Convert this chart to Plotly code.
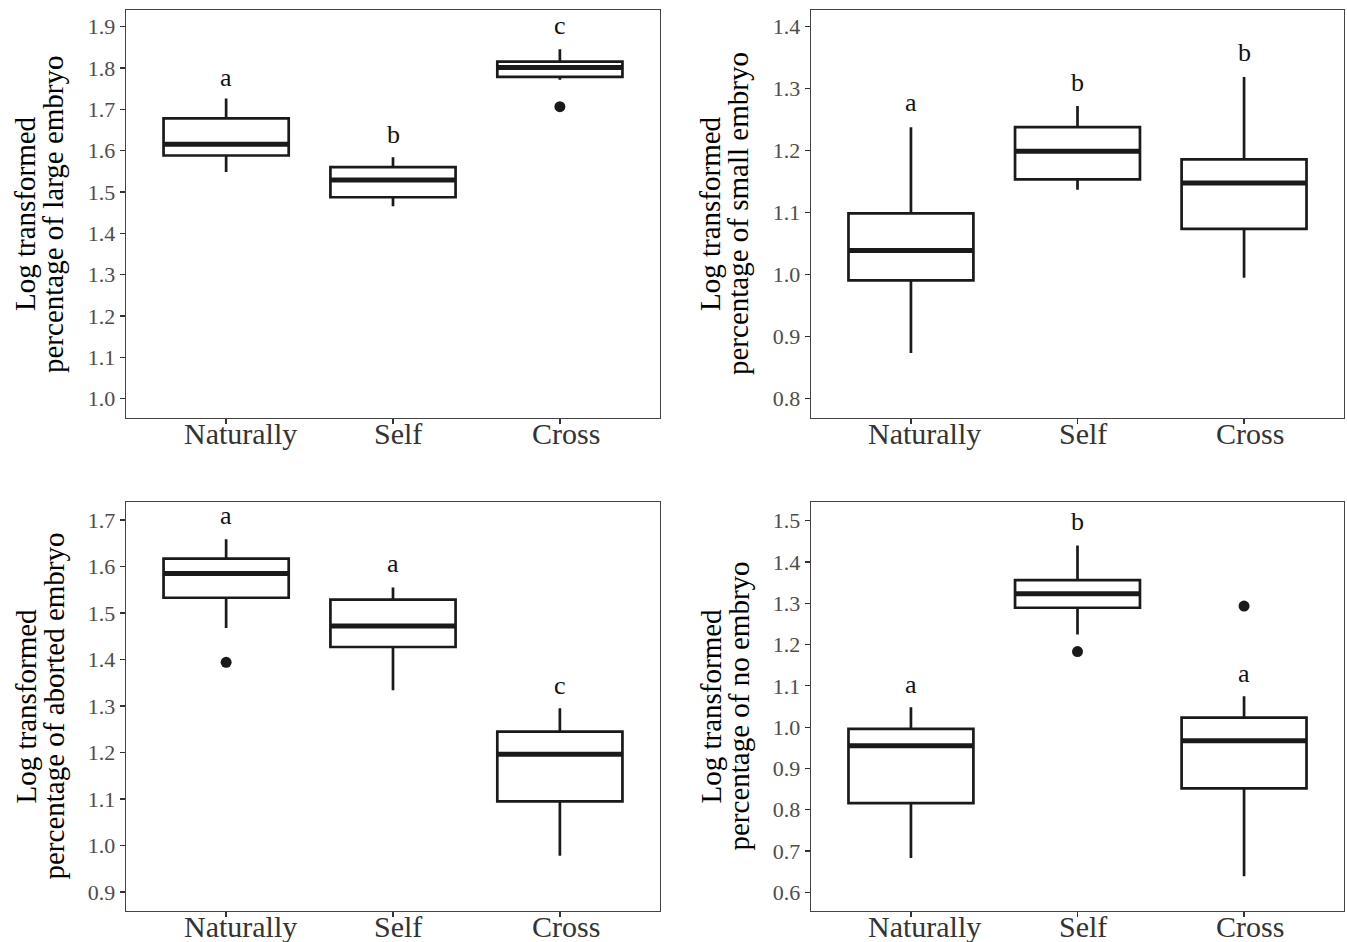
import plotly.graph_objects as go

categories = ["Naturally", "Self", "Cross"]
positions = [1, 2, 3]

# Panel 1: large embryo
large_low = [1.548, 1.465, 1.771]
large_q1 = [1.588, 1.487, 1.778]
large_med = [1.615, 1.529, 1.801]
large_q3 = [1.678, 1.560, 1.815]
large_high = [1.726, 1.584, 1.845]
large_out_x = ["Cross"]
large_out_y = [1.706]
large_letters = ["a", "b", "c"]
large_letter_y = [1.769, 1.631, 1.895]

# Panel 2: small embryo
small_low = [0.874, 1.137, 0.995]
small_q1 = [0.991, 1.154, 1.074]
small_med = [1.039, 1.199, 1.148]
small_q3 = [1.099, 1.238, 1.186]
small_high = [1.238, 1.272, 1.319]
small_out_x = []
small_out_y = []
small_letters = ["a", "b", "b"]
small_letter_y = [1.273, 1.305, 1.353]

# Panel 3: aborted embryo
abort_low = [1.468, 1.334, 0.978]
abort_q1 = [1.533, 1.427, 1.095]
abort_med = [1.585, 1.472, 1.196]
abort_q3 = [1.617, 1.529, 1.245]
abort_high = [1.659, 1.555, 1.295]
abort_out_x = ["Naturally"]
abort_out_y = [1.394]
abort_letters = ["a", "a", "c"]
abort_letter_y = [1.704, 1.600, 1.338]

# Panel 4: no embryo
none_low = [0.683, 1.224, 0.639]
none_q1 = [0.816, 1.289, 0.852]
none_med = [0.955, 1.323, 0.967]
none_q3 = [0.996, 1.356, 1.023]
none_high = [1.048, 1.440, 1.075]
none_out_x = ["Self", "Cross"]
none_out_y = [1.183, 1.293]
none_letters = ["a", "b", "a"]
none_letter_y = [1.096, 1.491, 1.122]

y_titles = [
    "percentage of large embryo",
    "percentage of small embryo",
    "percentage of aborted embryo",
    "percentage of no embryo",
]
y_ranges = [[0.953, 1.940], [0.769, 1.427], [0.859, 1.739], [0.555, 1.545]]

panels = [
    dict(low=large_low, q1=large_q1, med=large_med, q3=large_q3, high=large_high,
         ox=large_out_x, oy=large_out_y, letters=large_letters, ly=large_letter_y),
    dict(low=small_low, q1=small_q1, med=small_med, q3=small_q3, high=small_high,
         ox=small_out_x, oy=small_out_y, letters=small_letters, ly=small_letter_y),
    dict(low=abort_low, q1=abort_q1, med=abort_med, q3=abort_q3, high=abort_high,
         ox=abort_out_x, oy=abort_out_y, letters=abort_letters, ly=abort_letter_y),
    dict(low=none_low, q1=none_q1, med=none_med, q3=none_q3, high=none_high,
         ox=none_out_x, oy=none_out_y, letters=none_letters, ly=none_letter_y),
]

W, H = 1347, 942
plot_px = [(126, 660, 10, 418), (811, 1344, 10, 418), (126, 660, 502, 911), (811, 1344, 502, 911)]
title_x_px = [(25, 53), (710, 738), (25, 53), (710, 738)]
label_xshift = [14, 5, 6]

FONT = "Liberation Serif"
INK = "#1a1a1a"
BOXW = 0.75

fig = go.Figure()
annotations = []
layout = {}

for i, p in enumerate(panels):
    n = i + 1
    xa = "x" if n == 1 else f"x{n}"
    ya = "y" if n == 1 else f"y{n}"
    fig.add_trace(go.Box(
        x=positions, q1=p["q1"], median=p["med"], q3=p["q3"],
        lowerfence=p["low"], upperfence=p["high"],
        orientation="v", width=BOXW, whiskerwidth=0, boxpoints=False,
        fillcolor="white", line=dict(color=INK, width=2.7),
        xaxis=xa, yaxis=ya, showlegend=False, hoverinfo="skip",
    ))
    mx, my = [], []
    for xp, m in zip(positions, p["med"]):
        mx += [xp - BOXW / 2, xp + BOXW / 2, None]
        my += [m, m, None]
    fig.add_trace(go.Scatter(x=mx, y=my, mode="lines", line=dict(color=INK, width=5),
                             xaxis=xa, yaxis=ya, showlegend=False, hoverinfo="skip"))
    if p["ox"]:
        fig.add_trace(go.Scatter(
            x=[positions[categories.index(c)] for c in p["ox"]], y=p["oy"],
            mode="markers", marker=dict(color=INK, size=11),
            xaxis=xa, yaxis=ya, showlegend=False, hoverinfo="skip"))
    for xp, t, yv in zip(positions, p["letters"], p["ly"]):
        annotations.append(dict(x=xp, y=yv, xref=xa, yref=ya, text=t, showarrow=False,
                                xanchor="center", yanchor="middle", yshift=3,
                                font=dict(family=FONT, size=26, color="#111")))
    l, r, t, b = plot_px[i]
    axis_common = dict(ticks="outside", ticklen=5, tickwidth=1.3, tickcolor="#333",
                       showline=True, mirror=True, linecolor="#444", linewidth=1.4,
                       showgrid=False, zeroline=False, automargin=False)
    layout["xaxis" if n == 1 else f"xaxis{n}"] = dict(
        domain=[l / W, r / W], range=[0.4, 3.6], tickvals=positions, ticktext=categories,
        showticklabels=False, anchor=ya, **axis_common)
    layout["yaxis" if n == 1 else f"yaxis{n}"] = dict(
        domain=[1 - b / H, 1 - t / H], range=y_ranges[i], dtick=0.1, tick0=0,
        tickformat=".1f", anchor=xa,
        tickfont=dict(family=FONT, size=22, color="#4d4d4d"), **axis_common)
    # category labels under the axis
    ybot = 1 - b / H
    for xp, c, dx in zip(positions, categories, label_xshift):
        annotations.append(dict(x=xp, y=ybot, xref=xa, yref="paper", text=c, showarrow=False,
                                xanchor="center", yanchor="middle", yshift=-15, xshift=dx,
                                font=dict(family=FONT, size=30, color="#333")))
    yc = 1 - (t + b) / 2 / H
    x1, x2 = title_x_px[i]
    annotations.append(dict(x=x1 / W, y=yc, xref="paper", yref="paper", text="Log transformed",
                            textangle=-90, showarrow=False, xanchor="center", yanchor="middle",
                            font=dict(family=FONT, size=29, color="black")))
    annotations.append(dict(x=x2 / W, y=yc, xref="paper", yref="paper", text=y_titles[i],
                            textangle=-90, showarrow=False, xanchor="center", yanchor="middle",
                            font=dict(family=FONT, size=29, color="black")))

fig.update_layout(
    width=W, height=H, margin=dict(l=0, r=0, t=0, b=0),
    paper_bgcolor="white", plot_bgcolor="white",
    annotations=annotations, showlegend=False, **layout,
)

fig.write_html(
    "out.html",
    config={"displayModeBar": False, "staticPlot": True},
    post_script="document.body.style.margin='0';document.body.style.overflow='hidden';",
)
